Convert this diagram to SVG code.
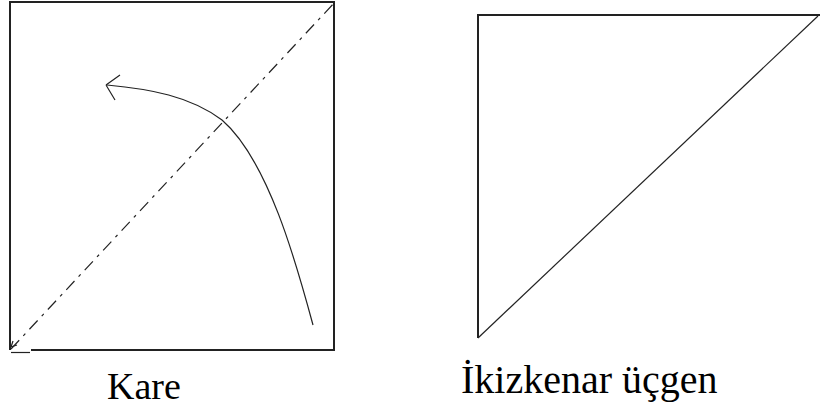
<svg xmlns="http://www.w3.org/2000/svg" width="820" height="412" viewBox="0 0 820 412">
<style>
.edge{fill:none;stroke:#222;stroke-width:2}
.thin{fill:none;stroke:#222;stroke-width:1.2}
.dash{fill:none;stroke:#222;stroke-width:1.2;stroke-dasharray:12,6,3,6}
.lbl{font-family:"Liberation Serif","Times New Roman",serif;fill:#000}
</style>
<rect width="820" height="412" fill="#fff"/>
<g id="kare">
  <path class="edge" d="M10,350 V2 H334 V350 H31"/>
  <path class="thin" d="M11,352.5 H30"/>
  <path class="dash" d="M11,349 L336,1"/>
  <path class="thin" d="M11,347 L13,341 M11,347 L17,345"/>
  <text class="lbl" x="107" y="399" font-size="38">Kare</text>
</g>
<g id="ucgen">
  <path class="edge" d="M478,338 V15 H820"/>
  <path class="thin" d="M478,338 L818,16"/>
  <text class="lbl" x="461" y="393" font-size="40">İkizkenar üçgen</text>
</g>
<g id="connectors">
  <path class="thin" stroke-width="1.5" d="M313,325 C296,262 268,160 222,120 C190,96 150,89 107,85"/>
  <path class="thin" stroke-width="1.3" d="M106,85 L120,75 M106,85 L115,100"/>
</g>
</svg>
